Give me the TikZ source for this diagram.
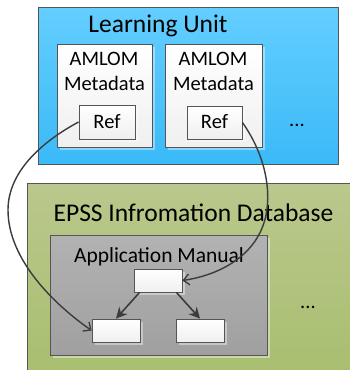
\documentclass[tikz,border=0pt]{standalone}
\usepackage{fontspec}
\setmainfont{Carlito}
\usetikzlibrary{arrows.meta,shadows}
\definecolor{bluetop}{RGB}{100,206,255}
\definecolor{bluebot}{RGB}{58,186,248}
\definecolor{greentop}{RGB}{186,200,140}
\definecolor{greenbot}{RGB}{168,190,112}
\definecolor{graytop}{RGB}{178,178,178}
\definecolor{graybot}{RGB}{160,160,160}
\definecolor{edge}{RGB}{85,85,85}
\definecolor{wire}{RGB}{60,60,60}
\tikzset{
  panel/.style={draw=edge, line width=0.8pt, inner sep=0pt, rectangle},
  shad/.style={drop shadow={shadow xshift=3pt, shadow yshift=-3pt, fill=white, opacity=0.4}},
  whitebox/.style={panel, shad, top color=white, bottom color=black!6},
  title/.style={anchor=base, inner sep=0pt, font=\fontsize{25.5}{28}\selectfont},
  label/.style={anchor=base, inner sep=0pt, font=\fontsize{20.5}{24}\selectfont},
  link/.style={draw=wire, line width=1.4pt, -{Straight Barb[length=6pt,width=11pt,line width=1.3pt]}},
  tree/.style={draw=wire, line width=1.6pt, -{Stealth[length=11pt,width=11pt]}}
}
\begin{document}
\begin{tikzpicture}[x=1pt,y=-1pt]
\useasboundingbox (0,0) rectangle (350,370);
\fill[white] (0,0) rectangle (350,370);
% Learning unit
\node[panel, top color=bluetop, bottom color=bluebot, minimum width=300pt, minimum height=157pt] (lu) at (188,85.5) {};
\node[title] (lut) at (158,32) {Learning Unit};
\node[whitebox, minimum width=95pt, minimum height=103pt] (am1) at (104.5,95.5) {};
\node[whitebox, minimum width=97pt, minimum height=103pt] (am2) at (213.5,95.5) {};
\node[label] (am1a) at (104,65) {AMLOM};
\node[label] (am1b) at (104.5,90) {Metadata};
\node[label] (am2a) at (213,65) {AMLOM};
\node[label] (am2b) at (213.5,90) {Metadata};
\node[whitebox, minimum width=56pt, minimum height=34pt] (ref1) at (107,122) {};
\node[whitebox, minimum width=55pt, minimum height=33pt] (ref2) at (214.5,122.5) {};
\node[label] (ref1t) at (107,128) {Ref};
\node[label] (ref2t) at (214.5,128) {Ref};
\node[label] (dots1) at (297,126) {...};
% EPSS database
\node[panel, top color=greentop, bottom color=greenbot, minimum width=328pt, minimum height=192pt] (db) at (191,279) {};
\node[title] (dbt) at (193.5,221) {EPSS Infromation Database};
\node[panel, shad, top color=graytop, bottom color=graybot, minimum width=217pt, minimum height=120pt] (am) at (158.5,295) {};
\node[label, font=\fontsize{21.5}{24}\selectfont] (amt) at (159,262) {Application Manual};
\node[whitebox, minimum width=48pt, minimum height=23pt] (top) at (158,280.5) {};
\node[whitebox, minimum width=48pt, minimum height=23pt] (bl) at (116,330.5) {};
\node[whitebox, minimum width=48pt, minimum height=23pt] (br) at (200,330.5) {};
\node[label] (dots2) at (308,308) {...};
% connectors
\draw[tree] (top.south west) ++(6,0) coordinate (t1) (t1) -- (bl.north);
\draw[tree] (top.south east) ++(-6,0) coordinate (t2) (t2) -- (br.north);
\draw[link] (ref1.west) .. controls (45,140) and (8,170) .. (8,210) .. controls (8,260) and (55,305) .. (bl.west);
\draw[link] (ref2.east) .. controls (262,150) and (272,185) .. (266,215) .. controls (258,255) and (220,275) .. (top.east);
\end{tikzpicture}
\end{document}
